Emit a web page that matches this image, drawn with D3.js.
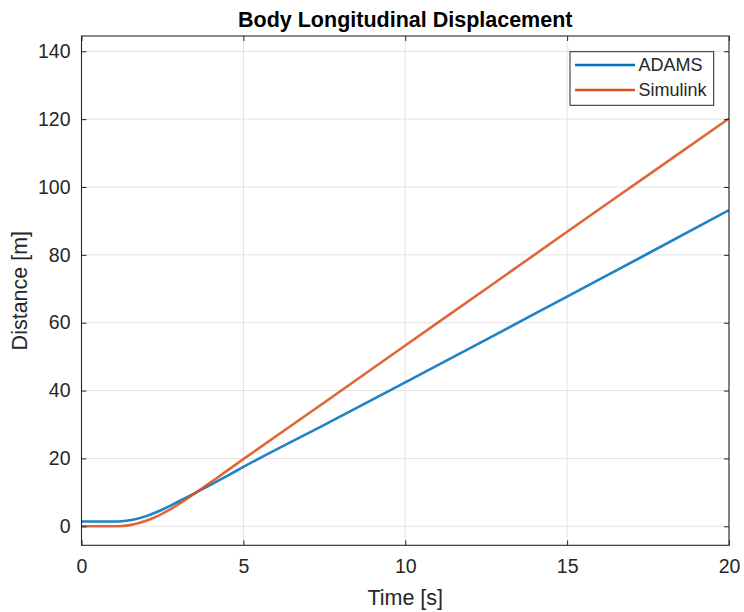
<!DOCTYPE html>
<html>
<head>
<meta charset="utf-8">
<script src="https://cdn.jsdelivr.net/npm/d3@7"></script>
<style>
  html, body { margin: 0; padding: 0; background: #fff; }
  svg { display: block; }
  text { font-family: "Liberation Sans", Arial, Helvetica, sans-serif; }
</style>
</head>
<body>
<svg id="chart" width="744" height="612"></svg>
<script>
// Time samples [s]
const time = [0, 1.0, 1.25, 1.5, 1.75, 2.0, 2.25, 2.5, 2.75, 3.0, 3.25, 3.5, 3.75, 4.0, 4.5, 5, 7.5, 10, 12.5, 15, 17.5, 20];
// Longitudinal displacement [m]
const adams    = [1.4, 1.4, 1.5, 1.8, 2.3, 3.0, 3.9, 4.95, 6.1, 7.3, 8.55, 9.8, 11.05, 12.3, 14.85, 17.5, 29.9, 42.4, 55.0, 67.7, 80.4, 93.2];
const simulink = [0, 0, 0.07, 0.35, 0.9, 1.65, 2.6, 3.75, 5.05, 6.5, 8.05, 9.7, 11.35, 13.0, 16.4, 19.8, 36.5, 53.3, 70.0, 86.8, 103.5, 120.2];

const xTicks = [0, 5, 10, 15, 20];
const yTicks = [0, 20, 40, 60, 80, 100, 120, 140];

const seriesNames = ["ADAMS", "Simulink"];
const seriesColors = ["#0072BD", "#D95319"];
const seriesValues = [adams, simulink];

const svg = d3.select("#chart");
const plot = { left: 81.5, right: 729, top: 36, bottom: 545.3 };

const x = d3.scaleLinear().domain([0, 20]).range([plot.left, plot.right]);
const y = d3.scaleLinear().domain([-5.6, 144.5]).range([plot.bottom, plot.top]);

const axisColor = "#262626";
const gridColor = "#e3e3e3";

// Grid
const grid = svg.append("g");
grid.selectAll("line.gx").data(xTicks).join("line")
  .attr("x1", d => x(d)).attr("x2", d => x(d))
  .attr("y1", plot.top).attr("y2", plot.bottom)
  .attr("stroke", gridColor).attr("stroke-width", 1);
grid.selectAll("line.gy").data(yTicks).join("line")
  .attr("x1", plot.left).attr("x2", plot.right)
  .attr("y1", d => y(d)).attr("y2", d => y(d))
  .attr("stroke", gridColor).attr("stroke-width", 1);

// Data lines
svg.append("clipPath").attr("id", "plotClip")
  .append("rect").attr("x", plot.left).attr("y", plot.top)
  .attr("width", plot.right - plot.left).attr("height", plot.bottom - plot.top);

const line = d3.line()
  .x((d, i) => x(time[i]))
  .y(d => y(d))
  .curve(d3.curveMonotoneX);

svg.append("g").attr("clip-path", "url(#plotClip)")
  .selectAll("path").data(seriesValues).join("path")
  .attr("d", d => line(d))
  .attr("fill", "none")
  .attr("stroke", (d, i) => seriesColors[i])
  .attr("stroke-opacity", 0.88)
  .attr("stroke-width", 2.6)
  .attr("stroke-linejoin", "round");

// Axes (ticks pointing inward, box on all sides)
const tickLen = 5;
const fmt = d3.format("d");
const xAxisB = d3.axisBottom(x).tickValues(xTicks).tickSize(-tickLen).tickPadding(14).tickFormat(fmt);
const xAxisT = d3.axisTop(x).tickValues(xTicks).tickSize(-tickLen).tickFormat("");
const yAxisL = d3.axisLeft(y).tickValues(yTicks).tickSize(-tickLen).tickPadding(11).tickFormat(fmt);
const yAxisR = d3.axisRight(y).tickValues(yTicks).tickSize(-tickLen).tickFormat("");

function styleAxis(g) {
  g.selectAll(".tick line").attr("stroke", axisColor).attr("stroke-width", 1);
  g.selectAll(".tick text").attr("fill", axisColor)
    .style("font-size", "19.5px")
    .style("font-family", '"Liberation Sans", Arial, Helvetica, sans-serif');
}

const gxb = svg.append("g").attr("transform", `translate(0,${plot.bottom})`).call(xAxisB);
const gxt = svg.append("g").attr("transform", `translate(0,${plot.top})`).call(xAxisT);
const gyl = svg.append("g").attr("transform", `translate(${plot.left},0)`).call(yAxisL);
const gyr = svg.append("g").attr("transform", `translate(${plot.right},0)`).call(yAxisR);
[gxb, gxt, gyl, gyr].forEach(g => {
  g.attr("font-size", null).attr("font-family", null);
  g.select(".domain").remove();
  styleAxis(g);
});

// Box outline
svg.append("rect")
  .attr("x", plot.left).attr("y", plot.top)
  .attr("width", plot.right - plot.left).attr("height", plot.bottom - plot.top)
  .attr("fill", "none").attr("stroke", axisColor).attr("stroke-width", 1.1);

// Title and axis labels
svg.append("text")
  .attr("x", (plot.left + plot.right) / 2).attr("y", 26.5)
  .attr("text-anchor", "middle")
  .style("font-size", "21.5px").style("font-weight", "bold")
  .attr("fill", "#000")
  .text("Body Longitudinal Displacement");

svg.append("text")
  .attr("x", (plot.left + plot.right) / 2).attr("y", 605)
  .attr("text-anchor", "middle")
  .style("font-size", "21.5px")
  .attr("fill", axisColor)
  .text("Time [s]");

svg.append("text")
  .attr("transform", `translate(27,${(plot.top + plot.bottom) / 2}) rotate(-90)`)
  .attr("text-anchor", "middle")
  .style("font-size", "21.5px")
  .attr("fill", axisColor)
  .text("Distance [m]");

// Legend
const legend = svg.append("g");
legend.append("rect")
  .attr("x", 570).attr("y", 51.7).attr("width", 143.7).attr("height", 53.6)
  .attr("fill", "#fff").attr("stroke", axisColor).attr("stroke-width", 1);
const rows = legend.selectAll("g.row").data(seriesNames).join("g")
  .attr("transform", (d, i) => `translate(0,${65 + i * 25})`);
rows.append("line")
  .attr("x1", 575).attr("x2", 635).attr("y1", 0).attr("y2", 0)
  .attr("stroke", (d, i) => seriesColors[i]).attr("stroke-width", 2.6);
rows.append("text")
  .attr("x", 638.5).attr("y", 0).attr("dy", "0.36em")
  .style("font-size", "18px")
  .attr("fill", axisColor)
  .text(d => d);
</script>
</body>
</html>
